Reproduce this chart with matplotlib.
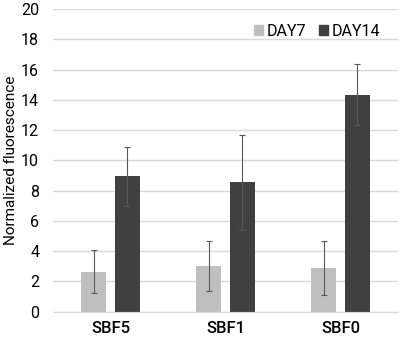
import numpy as np
import matplotlib
matplotlib.use("Agg")
import matplotlib.pyplot as plt
from matplotlib.patches import Patch

plt.rcParams["font.family"] = ["Roboto", "DejaVu Sans"]

# Dati
categories = ["SBF5", "SBF1", "SBF0"]
day7 = [2.65, 3.0, 2.9]
day7_err = [1.42, 1.65, 1.8]
day14 = [8.95, 8.55, 14.35]
day14_err = [1.95, 3.15, 2.0]
yticks = [0, 2, 4, 6, 8, 10, 12, 14, 16, 18, 20]

c7 = "#bfbfbf"
c14 = "#404040"
grid_c = "#d9d9d9"

fig = plt.figure(figsize=(4.0, 3.38), dpi=100)
ax = fig.add_axes([0.1325, 0.078, 0.8625, 0.895])

x = np.arange(len(categories))
w = 0.22
off = 0.145
err_kw = dict(ecolor="#595959", elinewidth=0.8, capsize=2, capthick=0.8)

ax.bar(x - off, day7, w, yerr=day7_err, color=c7, error_kw=err_kw, zorder=2, label="DAY7")
ax.bar(x + off, day14, w, yerr=day14_err, color=c14, error_kw=err_kw, zorder=2, label="DAY14")

ax.set_xlim(-0.5, 2.5)
ax.set_ylim(0, 20)
ax.set_yticks(yticks)
ax.set_xticks(x)
ax.set_xticklabels(categories, fontsize=12, fontweight="medium")
ax.tick_params(axis="y", labelsize=11.5, length=0, pad=10)
ax.tick_params(axis="x", length=0, pad=7)
ax.yaxis.grid(True, color=grid_c, linewidth=1, zorder=0)
ax.set_axisbelow(True)
for s in ["top", "right", "left"]:
    ax.spines[s].set_visible(False)
ax.spines["bottom"].set_color(grid_c)

ax.set_ylabel("Normalized fluorescence", fontsize=11, labelpad=2)

handles = [Patch(color=c7), Patch(color=c14)]
ax.legend(handles, ["DAY7", "DAY14"], loc="upper right", bbox_to_anchor=(0.99, 1.0),
          ncol=2, frameon=False, fontsize=11.5, handlelength=0.55, handleheight=0.55,
          handletextpad=0.25, columnspacing=0.8)

fig.savefig("out.png", dpi=100)
